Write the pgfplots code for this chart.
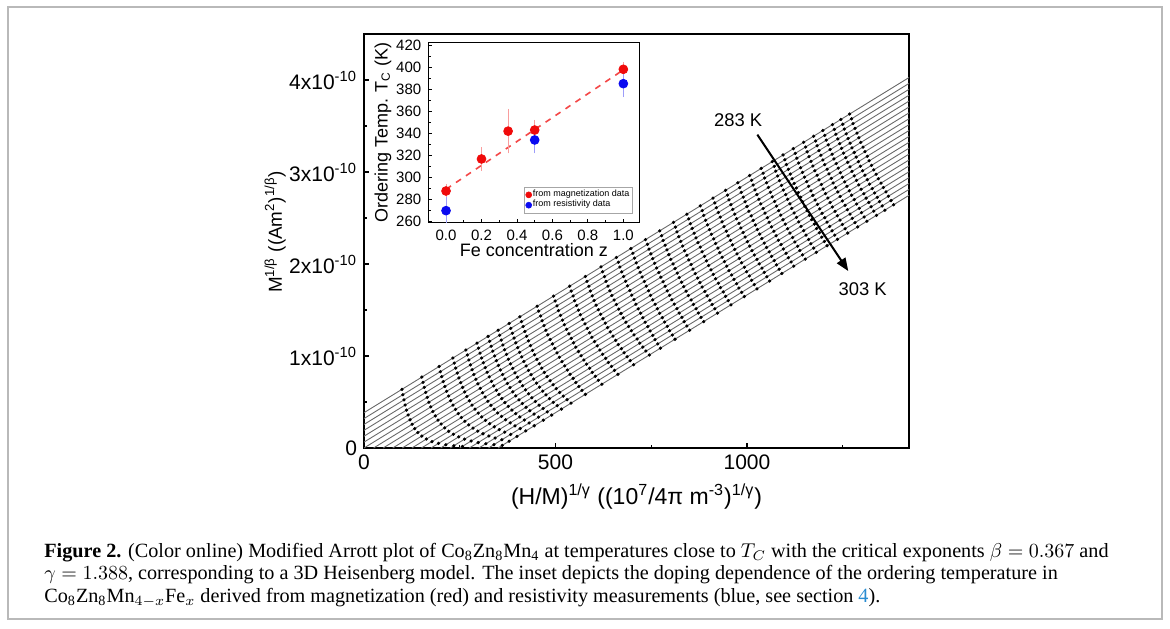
\documentclass[border=0pt]{standalone}
\usepackage{fontspec}
\setmainfont{Liberation Sans}
\newfontfamily\capfont{Liberation Serif}
\usepackage{pgfplots}
\pgfplotsset{compat=1.18}
\usetikzlibrary{arrows.meta}

\definecolor{linegray}{RGB}{105,105,105}
\definecolor{magred}{RGB}{240,10,10}
\definecolor{resblue}{RGB}{10,10,240}
\definecolor{linkblue}{RGB}{40,140,210}

\pgfplotsset{
  iso/.style={linegray, line width=0.45pt, forget plot},
  dots/.style={only marks, mark=*, mark size=0.6pt, black, forget plot},
}

\begin{document}
\begin{tikzpicture}
\path[use as bounding box] (0,0) rectangle (585pt,314pt);
\draw[gray!55, line width=0.7pt] (4pt,4.5pt) rectangle (581pt,310.5pt);

% main plot: modified Arrott isotherms 283 K ... 303 K
\begin{axis}[
  at={(182pt,90pt)}, anchor=south west,
  scale only axis, width=272.5pt, height=207pt,
  xmin=0, xmax=1423, ymin=0, ymax=4.5,
  axis line style={line width=0.65pt},
  tick pos=left, tick align=inside,
  major tick length=2.6pt, minor tick length=1.6pt,
  tick style={line width=0.55pt, black},
  xtick={0,500,1000}, xticklabels={0,500,1000},
  minor xtick={250,750,1250},
  ytick={0,1,2,3,4},
  yticklabels={0,1x10\textsuperscript{-10},2x10\textsuperscript{-10},3x10\textsuperscript{-10},4x10\textsuperscript{-10}},
  minor ytick={0.5,1.5,2.5,3.5},
  tick label style={font=\fontsize{10.5}{12}\selectfont},
  xlabel style={font=\fontsize{11.5}{13}\selectfont},
  ylabel style={font=\fontsize{9.4}{11}\selectfont},
  xlabel={(H/M)\textsuperscript{1/γ} ((10\textsuperscript{7}/4π m\textsuperscript{-3})\textsuperscript{1/γ})},
  ylabel={M\textsuperscript{1/β} ((Am\textsuperscript{2})\textsuperscript{1/β})},
  xlabel style={at={(axis description cs:0.5,-0.118)}, anchor=center},
  ylabel style={at={(axis description cs:-0.163,0.522)}, anchor=center},
]
% linear fits, one per isotherm
\addplot[iso] coordinates {(-150,0) (1450,4.096)};
\addplot[iso] coordinates {(-125,0) (1450,4.032)};
\addplot[iso] coordinates {(-100,0) (1450,3.968)};
\addplot[iso] coordinates {(-75,0) (1450,3.904)};
\addplot[iso] coordinates {(-50,0) (1450,3.840)};
\addplot[iso] coordinates {(-25,0) (1450,3.776)};
\addplot[iso] coordinates {(0,0) (1450,3.712)};
\addplot[iso] coordinates {(25,0) (1450,3.648)};
\addplot[iso] coordinates {(50,0) (1450,3.584)};
\addplot[iso] coordinates {(75,0) (1450,3.520)};
\addplot[iso] coordinates {(100,0) (1450,3.456)};
\addplot[iso] coordinates {(125,0) (1450,3.392)};
\addplot[iso] coordinates {(150,0) (1450,3.328)};
\addplot[iso] coordinates {(175,0) (1450,3.264)};
\addplot[iso] coordinates {(200,0) (1450,3.200)};
\addplot[iso] coordinates {(225,0) (1450,3.136)};
\addplot[iso] coordinates {(250,0) (1450,3.072)};
\addplot[iso] coordinates {(275,0) (1450,3.008)};
\addplot[iso] coordinates {(300,0) (1450,2.944)};
\addplot[iso] coordinates {(325,0) (1450,2.880)};
\addplot[iso] coordinates {(350,0) (1450,2.816)};

% measured points, one plot per field value (top = 283 K, bottom = 303 K)
\addplot[dots] coordinates {(99,0.637)(101.5,0.580)(104.3,0.523)(107.5,0.467)(111.1,0.412)(115.3,0.359)(120.1,0.307)(125.8,0.258)(132.6,0.211)(140.8,0.168)(150.9,0.130)(163.1,0.098)(177.5,0.070)(194.5,0.050)(213.8,0.035)(234.6,0.025)(256.8,0.017)};
\addplot[dots] coordinates {(151,0.771)(154.1,0.714)(157.4,0.659)(161.1,0.604)(165.1,0.551)(169.5,0.498)(174.5,0.447)(180.0,0.397)(186.3,0.349)(193.3,0.303)(201.4,0.260)(210.6,0.219)(221.2,0.182)(233.2,0.149)(247.1,0.121)(262.5,0.096)(279.5,0.076)(298.1,0.059)(318.3,0.047)(339.3,0.037)(361,0.028)};
\addplot[dots] coordinates {(196,0.886)(199.4,0.830)(203.0,0.776)(206.9,0.722)(211.2,0.669)(215.7,0.616)(220.8,0.565)(226.2,0.515)(232.3,0.467)(238.9,0.420)(246.2,0.374)(254.3,0.331)(263.3,0.290)(273.4,0.252)(284.6,0.217)(297.0,0.184)(310.7,0.155)(326.0,0.131)(342.3,0.108)(360.0,0.090)(378.8,0.074)};
\addplot[dots] coordinates {(232,0.978)(235.6,0.923)(239.4,0.869)(243.5,0.815)(247.8,0.762)(252.5,0.710)(257.5,0.659)(263.0,0.609)(268.8,0.560)(275.3,0.513)(282.2,0.466)(289.8,0.422)(298.1,0.379)(307.2,0.338)(317.2,0.300)(328.2,0.264)(340.1,0.231)(353.2,0.200)(367.4,0.173)(382.9,0.148)(399.3,0.126)};
\addplot[dots] coordinates {(266,1.065)(269.8,1.011)(273.7,0.957)(277.9,0.903)(282.3,0.851)(287.0,0.799)(292.1,0.748)(297.5,0.698)(303.3,0.648)(309.6,0.601)(316.3,0.554)(323.5,0.508)(331.4,0.464)(339.8,0.422)(349.0,0.381)(359.0,0.343)(369.8,0.307)(381.6,0.273)(394.2,0.241)(407.9,0.212)(422.5,0.186)};
\addplot[dots] coordinates {(295,1.139)(298.9,1.085)(302.9,1.031)(307.2,0.978)(311.7,0.926)(316.5,0.874)(321.6,0.823)(326.9,0.773)(332.7,0.724)(338.8,0.675)(345.4,0.628)(352.4,0.582)(359.9,0.537)(368.0,0.494)(376.7,0.452)(386.1,0.412)(396.1,0.374)(406.9,0.338)(418.7,0.304)(431.2,0.272)(444.5,0.242)};
\addplot[dots] coordinates {(324,1.213)(328.0,1.160)(332.1,1.106)(336.4,1.053)(341.0,1.001)(345.8,0.949)(350.9,0.898)(356.2,0.848)(361.9,0.798)(368.0,0.750)(374.4,0.702)(381.3,0.656)(388.5,0.611)(396.3,0.567)(404.7,0.524)(413.5,0.483)(423.0,0.443)(433.2,0.405)(444.0,0.369)(455.7,0.335)(468.1,0.302)};
\addplot[dots] coordinates {(350,1.280)(354.1,1.226)(358.2,1.173)(362.6,1.120)(367.3,1.068)(372.1,1.017)(377.1,0.965)(382.5,0.915)(388.2,0.866)(394.2,0.817)(400.5,0.769)(407.2,0.722)(414.3,0.677)(421.9,0.632)(429.9,0.589)(438.4,0.546)(447.5,0.506)(457.2,0.466)(467.5,0.429)(478.5,0.393)(490.0,0.358)};
\addplot[dots] coordinates {(379,1.354)(383.1,1.301)(387.3,1.247)(391.8,1.195)(396.5,1.143)(401.3,1.091)(406.4,1.040)(411.8,0.990)(417.4,0.941)(423.3,0.892)(429.6,0.844)(436.2,0.797)(443.1,0.750)(450.5,0.705)(458.2,0.661)(466.5,0.618)(475.2,0.577)(484.4,0.536)(494.1,0.497)(504.5,0.460)(515.4,0.423)};
\addplot[dots] coordinates {(407,1.426)(411.2,1.373)(415.5,1.320)(420.0,1.267)(424.7,1.215)(429.5,1.164)(434.7,1.113)(440.0,1.062)(445.6,1.013)(451.5,0.964)(457.7,0.916)(464.1,0.868)(470.9,0.822)(478.1,0.776)(485.7,0.731)(493.7,0.688)(502.1,0.645)(510.9,0.604)(520.3,0.564)(530.1,0.525)(540.6,0.488)};
\addplot[dots] coordinates {(452,1.541)(456,1.488)(461,1.435)(465,1.383)(470,1.331)(475,1.280)(480,1.230)(486,1.180)(492,1.131)(498,1.082)(504,1.034)(510,0.986)(517,0.939)(524,0.893)(531,0.847)(538,0.801)(546,0.757)(553,0.712)(561,0.669)(569,0.626)(578,0.583)};
\addplot[dots] coordinates {(495,1.651)(499,1.598)(504,1.545)(508,1.493)(513,1.441)(518,1.390)(523,1.340)(529,1.290)(535,1.241)(541,1.192)(547,1.144)(553,1.096)(560,1.049)(567,1.003)(574,0.957)(581,0.911)(589,0.867)(596,0.822)(604,0.779)(612,0.736)(621,0.693)};
\addplot[dots] coordinates {(537,1.759)(541,1.706)(546,1.653)(550,1.601)(555,1.549)(560,1.498)(565,1.448)(571,1.398)(577,1.349)(583,1.300)(589,1.252)(595,1.204)(602,1.157)(609,1.111)(616,1.065)(623,1.019)(631,0.975)(638,0.930)(646,0.887)(654,0.844)(663,0.801)};
\addplot[dots] coordinates {(578,1.864)(582,1.811)(587,1.758)(591,1.706)(596,1.654)(601,1.603)(606,1.553)(612,1.503)(618,1.454)(624,1.405)(630,1.357)(636,1.309)(643,1.262)(650,1.216)(657,1.170)(664,1.124)(672,1.080)(679,1.035)(687,0.992)(695,0.949)(704,0.906)};
\addplot[dots] coordinates {(619,1.969)(623,1.916)(628,1.863)(632,1.811)(637,1.759)(642,1.708)(647,1.658)(653,1.608)(659,1.559)(665,1.510)(671,1.462)(677,1.414)(684,1.367)(691,1.321)(698,1.275)(705,1.229)(713,1.185)(720,1.140)(728,1.097)(736,1.054)(745,1.011)};
\addplot[dots] coordinates {(659,2.071)(664,2.019)(668,1.967)(673,1.915)(678,1.864)(683,1.813)(688,1.762)(694,1.712)(699,1.662)(705,1.612)(710,1.563)(716,1.513)(722,1.465)(728,1.416)(734,1.368)(741,1.320)(747,1.272)(754,1.225)(760,1.178)(767,1.131)(774,1.085)};
\addplot[dots] coordinates {(697,2.168)(702,2.116)(706,2.064)(711,2.012)(716,1.961)(721,1.910)(726,1.859)(732,1.809)(737,1.759)(743,1.709)(748,1.660)(754,1.610)(760,1.562)(766,1.513)(772,1.465)(779,1.417)(785,1.369)(792,1.322)(798,1.275)(805,1.228)(812,1.182)};
\addplot[dots] coordinates {(735,2.266)(740,2.214)(744,2.162)(749,2.110)(754,2.059)(759,2.008)(764,1.957)(770,1.907)(775,1.857)(781,1.807)(786,1.758)(792,1.708)(798,1.660)(804,1.611)(810,1.563)(817,1.515)(823,1.467)(830,1.420)(836,1.373)(843,1.326)(850,1.280)};
\addplot[dots] coordinates {(772,2.360)(777,2.308)(781,2.256)(786,2.204)(791,2.153)(796,2.102)(801,2.051)(807,2.001)(812,1.951)(818,1.901)(823,1.852)(829,1.802)(835,1.754)(841,1.705)(847,1.657)(854,1.609)(860,1.561)(867,1.514)(873,1.467)(880,1.420)(887,1.374)};
\addplot[dots] coordinates {(808,2.453)(813,2.401)(817,2.349)(822,2.297)(827,2.246)(832,2.195)(837,2.144)(843,2.094)(848,2.044)(854,1.994)(859,1.945)(865,1.895)(871,1.847)(877,1.798)(883,1.750)(890,1.702)(896,1.654)(903,1.607)(909,1.560)(916,1.513)(923,1.467)};
\addplot[dots] coordinates {(843,2.542)(848,2.490)(852,2.438)(857,2.386)(862,2.335)(867,2.284)(872,2.233)(878,2.183)(883,2.133)(889,2.083)(894,2.034)(900,1.984)(906,1.936)(912,1.887)(918,1.839)(925,1.791)(931,1.743)(938,1.696)(944,1.649)(951,1.602)(958,1.556)};
\addplot[dots] coordinates {(878,2.632)(883,2.580)(887,2.528)(892,2.476)(897,2.425)(902,2.374)(907,2.323)(913,2.273)(918,2.223)(924,2.173)(929,2.124)(935,2.074)(941,2.026)(947,1.977)(953,1.929)(960,1.881)(966,1.833)(973,1.786)(979,1.739)(986,1.692)(993,1.646)};
\addplot[dots] coordinates {(911,2.716)(916,2.664)(920,2.612)(925,2.560)(930,2.509)(935,2.458)(940,2.407)(946,2.357)(951,2.307)(957,2.257)(962,2.208)(968,2.158)(974,2.110)(980,2.061)(986,2.013)(993,1.965)(999,1.917)(1006,1.870)(1012,1.823)(1019,1.776)(1026,1.730)};
\addplot[dots] coordinates {(944,2.801)(949,2.749)(953,2.697)(958,2.645)(963,2.594)(968,2.543)(973,2.492)(979,2.442)(984,2.392)(990,2.342)(995,2.293)(1001,2.243)(1007,2.195)(1013,2.146)(1019,2.098)(1026,2.050)(1032,2.002)(1039,1.955)(1045,1.908)(1052,1.861)(1059,1.815)};
\addplot[dots] coordinates {(976,2.883)(981,2.831)(985,2.779)(990,2.727)(995,2.676)(1000,2.625)(1005,2.574)(1011,2.524)(1016,2.474)(1022,2.424)(1027,2.375)(1033,2.325)(1039,2.277)(1045,2.228)(1051,2.180)(1058,2.132)(1064,2.084)(1071,2.037)(1077,1.990)(1084,1.943)(1091,1.897)};
\addplot[dots] coordinates {(1007,2.962)(1012,2.910)(1016,2.858)(1021,2.806)(1026,2.755)(1031,2.704)(1036,2.653)(1042,2.603)(1047,2.553)(1053,2.503)(1058,2.454)(1064,2.404)(1070,2.356)(1076,2.307)(1082,2.259)(1089,2.211)(1095,2.163)(1102,2.116)(1108,2.069)(1115,2.022)(1122,1.976)};
\addplot[dots] coordinates {(1037,3.039)(1042,2.987)(1046,2.935)(1051,2.883)(1056,2.832)(1061,2.781)(1066,2.730)(1072,2.680)(1077,2.630)(1083,2.580)(1088,2.531)(1094,2.481)(1100,2.433)(1106,2.384)(1112,2.336)(1119,2.288)(1125,2.240)(1132,2.193)(1138,2.146)(1145,2.099)(1152,2.053)};
\addplot[dots] coordinates {(1066,3.113)(1071,3.061)(1075,3.009)(1080,2.957)(1085,2.906)(1090,2.855)(1095,2.804)(1101,2.754)(1106,2.704)(1112,2.654)(1117,2.605)(1123,2.555)(1129,2.507)(1135,2.458)(1141,2.410)(1148,2.362)(1154,2.314)(1161,2.267)(1167,2.220)(1174,2.173)(1181,2.127)};
\addplot[dots] coordinates {(1094,3.185)(1099,3.133)(1103,3.081)(1108,3.029)(1113,2.978)(1118,2.927)(1123,2.876)(1129,2.826)(1134,2.776)(1140,2.726)(1145,2.677)(1151,2.627)(1157,2.579)(1163,2.530)(1169,2.482)(1176,2.434)(1182,2.386)(1189,2.339)(1195,2.292)(1202,2.245)(1209,2.199)};
\addplot[dots] coordinates {(1121,3.254)(1126,3.202)(1130,3.150)(1135,3.098)(1140,3.047)(1145,2.996)(1150,2.945)(1156,2.895)(1161,2.845)(1167,2.795)(1172,2.746)(1178,2.696)(1184,2.648)(1190,2.599)(1196,2.551)(1203,2.503)(1209,2.455)(1216,2.408)(1222,2.361)(1229,2.314)(1236,2.268)};
\addplot[dots] coordinates {(1148,3.323)(1153,3.271)(1157,3.219)(1162,3.167)(1167,3.116)(1172,3.065)(1177,3.014)(1183,2.964)(1188,2.914)(1194,2.864)(1199,2.815)(1205,2.765)(1211,2.717)(1217,2.668)(1223,2.620)(1230,2.572)(1236,2.524)(1243,2.477)(1249,2.430)(1256,2.383)(1263,2.337)};
\addplot[dots] coordinates {(1174,3.389)(1179,3.337)(1183,3.285)(1188,3.233)(1193,3.182)(1198,3.131)(1203,3.080)(1209,3.030)(1214,2.980)(1220,2.930)(1225,2.881)(1231,2.831)(1237,2.783)(1243,2.734)(1249,2.686)(1256,2.638)(1262,2.590)(1269,2.543)(1275,2.496)(1282,2.449)(1289,2.403)};
\addplot[dots] coordinates {(1198,3.451)(1203,3.399)(1207,3.347)(1212,3.295)(1217,3.244)(1222,3.193)(1227,3.142)(1233,3.092)(1238,3.042)(1244,2.992)(1249,2.943)(1255,2.893)(1261,2.845)(1267,2.796)(1273,2.748)(1280,2.700)(1286,2.652)(1293,2.605)(1299,2.558)(1306,2.511)(1313,2.465)};
\addplot[dots] coordinates {(1223,3.515)(1228,3.463)(1232,3.411)(1237,3.359)(1242,3.308)(1247,3.257)(1252,3.206)(1258,3.156)(1263,3.106)(1269,3.056)(1274,3.007)(1280,2.957)(1286,2.909)(1292,2.860)(1298,2.812)(1305,2.764)(1311,2.716)(1318,2.669)(1324,2.622)(1331,2.575)(1338,2.529)};
\addplot[dots] coordinates {(1245,3.571)(1250,3.519)(1254,3.467)(1259,3.415)(1264,3.364)(1269,3.313)(1274,3.262)(1280,3.212)(1285,3.162)(1291,3.112)(1296,3.063)(1302,3.013)(1308,2.965)(1314,2.916)(1320,2.868)(1327,2.820)(1333,2.772)(1340,2.725)(1346,2.678)(1353,2.631)(1360,2.585)};
\addplot[dots] coordinates {(1268,3.630)(1273,3.578)(1277,3.526)(1282,3.474)(1287,3.423)(1292,3.372)(1297,3.321)(1303,3.271)(1308,3.221)(1314,3.171)(1319,3.122)(1325,3.072)(1331,3.024)(1337,2.975)(1343,2.927)(1350,2.879)(1356,2.831)(1363,2.784)(1369,2.737)(1376,2.690)(1383,2.644)};

\draw[line width=1pt, -{Triangle[length=6.5pt, width=5pt]}] (axis cs:1027,3.406) -- (axis cs:1264.5,1.923);
\node[font=\fontsize{9.2}{11}\selectfont] at (axis cs:977,3.565) {283 K};
\node[font=\fontsize{9.2}{11}\selectfont] at (axis cs:1302,1.724) {303 K};
\end{axis}

% inset: ordering temperature vs Fe concentration
\begin{axis}[
  at={(214.15pt,202.6pt)}, anchor=south west,
  scale only axis, width=105.5pt, height=90pt,
  xmin=-0.1, xmax=1.09, ymin=259, ymax=422,
  axis background/.style={fill=white},
  axis line style={line width=0.5pt},
  tick pos=left, tick align=inside,
  major tick length=2pt, minor tick length=1.2pt,
  tick style={line width=0.4pt, black},
  xtick={0,0.2,0.4,0.6,0.8,1}, xticklabels={0.0,0.2,0.4,0.6,0.8,1.0},
  minor xtick={0.1,0.3,0.5,0.7,0.9},
  ytick={260,280,300,320,340,360,380,400,420},
  yticklabels={260,280,300,320,340,360,380,400,420},
  minor ytick={270,290,310,330,350,370,390,410},
  tick label style={font=\fontsize{7.5}{8.5}\selectfont},
  label style={font=\fontsize{9}{10.5}\selectfont},
  xlabel={Fe concentration z},
  ylabel={Ordering Temp. T\textsubscript{C} (K)},
  xlabel style={at={(axis description cs:0.5,-0.152)}, anchor=center},
  ylabel style={at={(axis description cs:-0.215,0.5)}, anchor=center},
  legend style={at={(0.969,0.2)}, anchor=north east,
    font=\fontsize{4.5}{5.2}\selectfont, draw=gray!70, line width=0.3pt,
    inner sep=0.9pt, row sep=-0.8pt, nodes={inner sep=0.6pt}},
  legend image post style={mark size=1.5pt},
  legend cell align=left,
]
\addplot[magred!75, dashed, line width=0.8pt, forget plot] coordinates {(0,289.4) (1.0,397.5)};
\addplot[only marks, mark=*, mark size=2.2pt, color=magred,
  error bars/.cd, y dir=both, y explicit,
  error bar style={color=magred!40, line width=0.4pt},
  error mark options={color=magred!40, mark size=1.2pt}]
  coordinates {(0,287.8) +- (0,4) (0.2,316.8) +- (0,8.5) (0.35,342) +- (0,18) (0.5,343) +- (0,7) (1.0,398) +- (0,4)};
\addplot[only marks, mark=*, mark size=2.2pt, color=resblue,
  error bars/.cd, y dir=both, y explicit,
  error bar style={color=resblue!40, line width=0.4pt},
  error mark options={color=resblue!40, mark size=1.2pt}]
  coordinates {(0,270) +- (0,10) (0.5,334) +- (0,10) (1.0,385) +- (0,10)};
\legend{from magnetization data, from resistivity data}
\end{axis}

\begin{scope}[font=\capfont\fontsize{10.1}{12}\selectfont]
\node[anchor=base west, inner sep=0] at (22pt,35.5pt) {\textbf{Figure 2.} (Color online) Modified Arrott plot of Co\textsubscript{8}Zn\textsubscript{8}Mn\textsubscript{4} at temperatures close to $T_C$ with the critical exponents $\beta = 0.367$ and};
\node[anchor=base west, inner sep=0] at (22pt,24.25pt) {$\gamma = 1.388$, corresponding to a 3D Heisenberg model. The inset depicts the doping dependence of the ordering temperature in};
\node[anchor=base west, inner sep=0] at (22pt,12.75pt) {Co\textsubscript{8}Zn\textsubscript{8}Mn$_{4-x}$Fe$_x$ derived from magnetization (red) and resistivity measurements (blue, see section \textcolor{linkblue}{4}).};
\end{scope}
\end{tikzpicture}
\end{document}
